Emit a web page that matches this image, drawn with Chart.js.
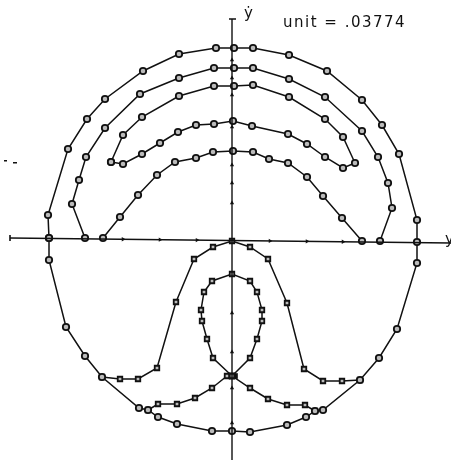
<!DOCTYPE html>
<html>
<head>
<meta charset="utf-8">
<script src="https://cdn.jsdelivr.net/npm/chart.js@4/dist/chart.umd.min.js"></script>
<style>
  html, body { margin: 0; padding: 0; background: #fff; }
  #wrap { width: 451px; height: 460px; }
</style>
</head>
<body>
<div id="wrap"><canvas id="phase" width="451" height="460"></canvas></div>
<script>
// Phase plane trajectories (x, y-dot), in plot units
const outerOrbit = [[-183,2],[-184,25],[-164,91],[-145,121],[-127,141],[-89,169],[-53,186],[-16,192],[2,192],[21,192],[57,185],[95,169],[130,140],[150,115],[167,86],[185,20],[185,-2],[185,-23],[165,-89],[147,-118],[128,-140],[91,-170],[83,-171],[74,-177],[55,-185],[18,-192],[0,-191],[-20,-191],[-55,-184],[-74,-177],[-84,-170],[-93,-168],[-130,-137],[-147,-116],[-166,-87],[-183,-20],[-183,2]];
const secondOrbit = [[-147,2],[-160,36],[-153,60],[-146,83],[-127,112],[-92,146],[-53,162],[-18,172],[2,172],[21,172],[57,161],[93,143],[130,109],[146,83],[156,57],[160,32],[148,-1]];
const horseshoe = [[-121,78],[-109,76],[-90,86],[-72,97],[-54,108],[-36,115],[-18,116],[1,119],[20,114],[56,106],[75,96],[93,83],[111,72],[123,77],[111,103],[93,121],[57,143],[21,155],[2,154],[-18,154],[-53,144],[-90,123],[-109,105],[-121,78]];
const innerArch = [[-129,2],[-112,23],[-94,45],[-75,65],[-57,78],[-36,82],[-19,88],[1,89],[21,88],[37,81],[56,77],[75,63],[91,44],[110,22],[130,-1]];
const bellCurve = [[-130,-137],[-112,-139],[-94,-139],[-75,-128],[-56,-62],[-38,-19],[-19,-7],[0,-1],[18,-7],[36,-19],[55,-63],[72,-129],[91,-141],[110,-141],[128,-140]];
const innerLoop = [[0,-136],[-19,-118],[-25,-99],[-30,-81],[-31,-70],[-28,-52],[-20,-41],[0,-34],[18,-41],[25,-52],[30,-70],[30,-81],[25,-99],[18,-118],[0,-136]];
const separatrix = [[-84,-170],[-74,-164],[-55,-164],[-37,-158],[-20,-148],[-5,-136],[0,-136],[18,-148],[36,-159],[55,-165],[73,-165],[83,-171]];
const saddlePoints = [[-3,-136],[3,-136]];

// axes and their small arrow ticks
const xAxisLine = [[-222,2],[219,-3]];
const yAxisLine = [[0,221],[0,-222]];
const xTickPos = [-109,-72,-35,38,75,111];
const yTickPos = [180,162,145,113,75,57,37,-73,-112,-148,-183];

const toPts = arr => arr.map(p => ({ x: p[0], y: p[1] }));

// the x axis is drawn slightly tilted, so ticks follow its line
const [xa, xb] = xAxisLine;
const onXAxis = v => xa[1] + (v - xa[0]) * (xb[1] - xa[1]) / (xb[0] - xa[0]);

function orbit(arr, style) {
  return {
    data: toPts(arr),
    showLine: true,
    borderColor: "#111",
    borderWidth: 1.5,
    pointStyle: style,
    pointRadius: 3.2,
    pointBorderWidth: 1.8,
    pointBorderColor: "#111",
    pointBackgroundColor: "#bbb",
    tension: 0,
  };
}

function axisLine(arr) {
  return {
    data: toPts(arr),
    showLine: true,
    borderColor: "#111",
    borderWidth: 1.4,
    pointRadius: 0,
  };
}

// text labels and axis end caps
const labelsPlugin = {
  id: "labels",
  afterDraw(chart) {
    const ctx = chart.ctx;
    const sx = chart.scales.x, sy = chart.scales.y;
    ctx.save();
    ctx.strokeStyle = "#111";
    ctx.lineWidth = 1.6;
    ctx.beginPath();
    ctx.moveTo(sx.getPixelForValue(-3), sy.getPixelForValue(221));
    ctx.lineTo(sx.getPixelForValue(4), sy.getPixelForValue(221));
    ctx.moveTo(sx.getPixelForValue(-222), sy.getPixelForValue(5));
    ctx.lineTo(sx.getPixelForValue(-222), sy.getPixelForValue(-1));
    ctx.stroke();
    ctx.fillStyle = "#111";
    ctx.textBaseline = "alphabetic";
    ctx.font = "15px 'DejaVu Sans'";
    ctx.fillText("\u1E8F", 244, 18);
    ctx.fillText("y", 445, 244);
    ctx.letterSpacing = "1.5px";
    ctx.fillText("unit = .03774", 283, 27);
    ctx.fillRect(4, 160, 3, 1.5);
    ctx.fillRect(13, 162, 4, 1.5);
    ctx.restore();
  },
};

new Chart(document.getElementById("phase"), {
  type: "scatter",
  data: {
    datasets: [
      axisLine(xAxisLine),
      axisLine(yAxisLine),
      {
        data: xTickPos.map(v => ({ x: v, y: onXAxis(v) })),
        pointStyle: "triangle",
        rotation: 90,
        pointRadius: 2.5,
        pointBackgroundColor: "#111",
        pointBorderWidth: 0,
      },
      {
        data: yTickPos.map(v => ({ x: 0, y: v })),
        pointStyle: "triangle",
        pointRadius: 2.5,
        pointBackgroundColor: "#111",
        pointBorderWidth: 0,
      },
      orbit(outerOrbit, "circle"),
      orbit(secondOrbit, "circle"),
      orbit(horseshoe, "circle"),
      orbit(innerArch, "circle"),
      orbit(bellCurve, "rect"),
      orbit(innerLoop, "rect"),
      orbit(separatrix, "rect"),
      {
        // dark blob where the separatrices cross
        data: toPts(saddlePoints),
        pointStyle: "rect",
        pointRadius: 4,
        pointBackgroundColor: "#111",
        pointBorderWidth: 0,
      },
    ],
  },
  options: {
    responsive: false,
    animation: false,
    events: [],
    layout: { padding: 0, autoPadding: false },
    plugins: { legend: { display: false }, tooltip: { enabled: false } },
    scales: {
      x: { type: "linear", min: -232, max: 219, display: false },
      y: { type: "linear", min: -220, max: 240, display: false },
    },
  },
  plugins: [labelsPlugin],
});
</script>
</body>
</html>
